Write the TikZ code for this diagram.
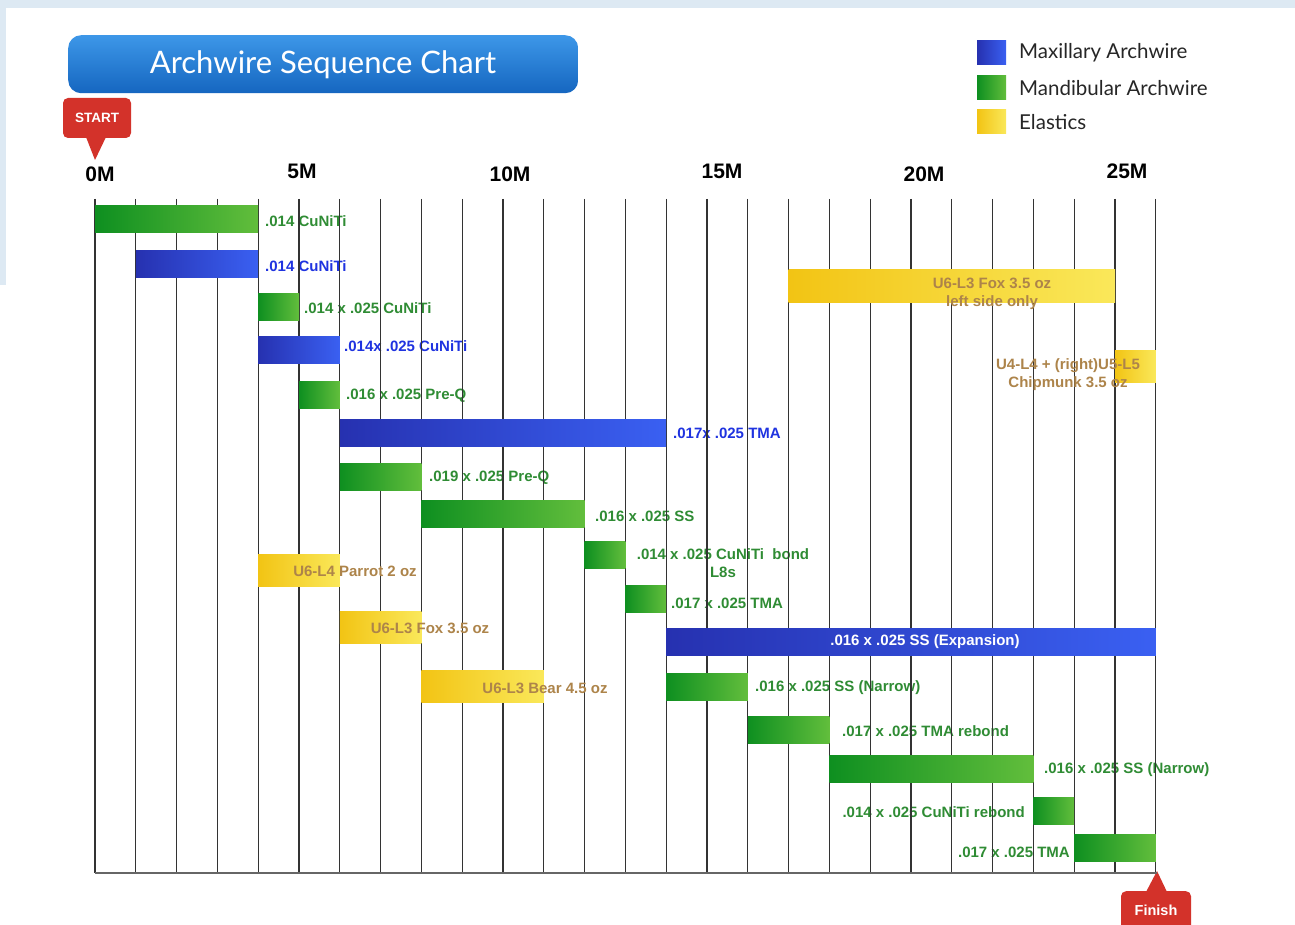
\documentclass[tikz,border=0pt]{standalone}
\usepackage{fontspec}
\setmainfont{Liberation Sans}
\newfontfamily\gillfont{Lato}
\definecolor{bgblue}{HTML}{DDE9F3}
\definecolor{gdark}{HTML}{0E8F20}
\definecolor{glight}{HTML}{62BE3C}
\definecolor{bdark}{HTML}{2631B0}
\definecolor{blight}{HTML}{3A60F2}
\definecolor{ydark}{HTML}{F2C414}
\definecolor{ylight}{HTML}{FAE85A}
\definecolor{wgreen}{HTML}{2F8C34}
\definecolor{wblue}{HTML}{1F33E0}
\definecolor{wtan}{HTML}{AD844A}
\definecolor{ttop}{HTML}{3D97E8}
\definecolor{tbot}{HTML}{1566C0}
\definecolor{mred}{HTML}{D3322A}
\definecolor{gridc}{HTML}{333333}
\newcommand\wirebar[5]{\node[#1, minimum width={40.8*(#4-#3)}] (#2) at ({95+40.8*#3},#5) {};}
\begin{document}
\begin{tikzpicture}[x=1pt,y=-1pt,
  lbl/.style={font=\bfseries\fontsize{15}{18}\selectfont, inner sep=0, anchor=west},
  glbl/.style={lbl, text=wgreen},
  blbl/.style={lbl, text=wblue},
  ylbl/.style={lbl, text=wtan, anchor=center, align=center},
  axl/.style={font=\bfseries\fontsize{21}{24}\selectfont, inner sep=0},
  barbase/.style={draw=none, inner sep=0, outer sep=0, anchor=north west},
  gbar/.style={barbase, left color=gdark, right color=glight, minimum height=27},
  bbar/.style={barbase, left color=bdark, right color=blight, minimum height=27},
  ybar/.style={barbase, left color=ydark, right color=ylight, minimum height=32},
  legsq/.style={minimum width=29, minimum height=24, inner sep=0, anchor=north west},
  legtxt/.style={font=\gillfont\fontsize{20.5}{22}\selectfont, text=black!85, anchor=west, inner sep=0},
  marker/.style={fill=mred, rounded corners=5, inner sep=0, text=white, font=\bfseries\fontsize{13.5}{15}\selectfont}
]
\useasboundingbox (0,0) rectangle (1295,925);
\fill[white] (0,0) rectangle (1295,925);
% light border
\fill[bgblue] (0,0) rectangle (1295,8);
\fill[bgblue] (0,0) rectangle (6,285);

% title
\node[top color=ttop, bottom color=tbot, rounded corners=13, minimum width=510, minimum height=58, inner sep=0, anchor=north west] (title) at (68,35) {};
\node[text=white, font=\gillfont\fontsize{31}{34}\selectfont, inner sep=0] (titletext) at (323,65) {Archwire Sequence Chart};

% legend
\node[legsq, left color=bdark, right color=blight] (lgb) at (977,40) {};
\node[legsq, left color=gdark, right color=glight] (lgg) at (977,75) {};
\node[legsq, left color=ydark, right color=ylight] (lgy) at (977,109) {};
\node[legtxt] (lgbt) at (1019,53) {Maxillary Archwire};
\node[legtxt] (lggt) at (1019,88) {Mandibular Archwire};
\node[legtxt] (lgyt) at (1019,122) {Elastics};

% start / finish markers
\node[marker, minimum width=68, minimum height=40] (start) at (97,118) {START};
\fill[mred] (86,137) -- (106,137) -- (95,160) -- cycle;
\node[marker, minimum width=70, minimum height=44, anchor=north] (finish) at (1156,891) {};
\node[text=white, font=\bfseries\fontsize{14.5}{16}\selectfont, inner sep=0] (finisht) at (1156,910) {Finish};
\fill[mred] (1146,892) -- (1167,892) -- (1157,871) -- cycle;

% axis labels
\node[axl] (m0) at (100,174) {0M};
\node[axl] (m5) at (302,171) {5M};
\node[axl] (m10) at (510,174) {10M};
\node[axl] (m15) at (722,171) {15M};
\node[axl] (m20) at (924,174) {20M};
\node[axl] (m25) at (1127,171) {25M};

% wire labels (under grid lines)
\node[glbl] (l1) at (265,221) {.014 CuNiTi};
\node[blbl] (l2) at (265,266) {.014 CuNiTi};
\node[glbl] (l4) at (304,308) {.014 x .025 CuNiTi};
\node[blbl] (l5) at (344,346) {.014x .025 CuNiTi};
\node[glbl] (l7) at (346,396) {.016 x .025 Pre-Q};
\node[blbl] (l8) at (673,433) {.017x .025 TMA};
\node[glbl] (l9) at (429,478) {.019 x .025 Pre-Q};
\node[glbl] (l10) at (595,516) {.016 x .025 SS};
\node[glbl, anchor=center, align=center] (l11) at (723,563) {.014 x .025 CuNiTi\ \ bond\\L8s};
\node[glbl] (l13) at (671,603) {.017 x .025 TMA};
\node[glbl] (l17) at (755,688) {.016 x .025 SS (Narrow)};
\node[glbl] (l18) at (842,731) {.017 x .025 TMA rebond};
\node[glbl] (l19) at (1044,770) {.016 x .025 SS (Narrow)};
\node[glbl, anchor=east] (l20) at (1025,812) {.014 x .025 CuNiTi rebond};
\node[glbl, anchor=east] (l21) at (1070,852) {.017 x .025 TMA};

% grid
\foreach \i in {0,...,26} {
  \draw[gridc, line width=1.1] ({95+40.8*\i},199) -- ({95+40.8*\i},873);
}
\draw[gray!80!black, line width=1.6] (95,873) -- (1157,873);

% bars
\wirebar{gbar}{b1}{0}{4}{206}
\wirebar{bbar}{b2}{1}{4}{251}
\wirebar{ybar}{b3}{17}{25}{270}
\wirebar{gbar}{b4}{4}{5}{293}
\wirebar{bbar}{b5}{4}{6}{336}
\wirebar{ybar}{b6}{25}{26}{350}
\wirebar{gbar}{b7}{5}{6}{381}
\wirebar{bbar}{b8}{6}{14}{419}
\wirebar{gbar}{b9}{6}{8}{463}
\wirebar{gbar}{b10}{8}{12}{500}
\wirebar{gbar}{b11}{12}{13}{541}
\wirebar{ybar}{b12}{4}{6}{554}
\wirebar{gbar}{b13}{13}{14}{585}
\wirebar{ybar}{b14}{6}{8}{611}
\wirebar{bbar}{b15}{14}{26}{628}
\wirebar{ybar}{b16}{8}{11}{670}
\wirebar{gbar}{b17}{14}{16}{673}
\wirebar{gbar}{b18}{16}{18}{716}
\wirebar{gbar}{b19}{18}{23}{755}
\wirebar{gbar}{b20}{23}{24}{797}
\wirebar{gbar}{b21}{24}{26}{834}

% labels over bars
\node[ylbl] (l3) at (992,294) {U6-L3 Fox 3.5 oz\\left side only};
\node[ylbl] (l6) at (1068,375) {U4-L4 + (right)U5-L5\\Chipmunk 3.5 oz};
\node[ylbl] (l12) at (355,571) {U6-L4 Parrot 2 oz};
\node[ylbl] (l14) at (430,628) {U6-L3 Fox 3.5 oz};
\node[ylbl] (l16) at (545,688) {U6-L3 Bear 4.5 oz};
\node[lbl, text=white, anchor=center] (l15) at (925,642) {.016 x .025 SS (Expansion)};
\end{tikzpicture}
\end{document}
